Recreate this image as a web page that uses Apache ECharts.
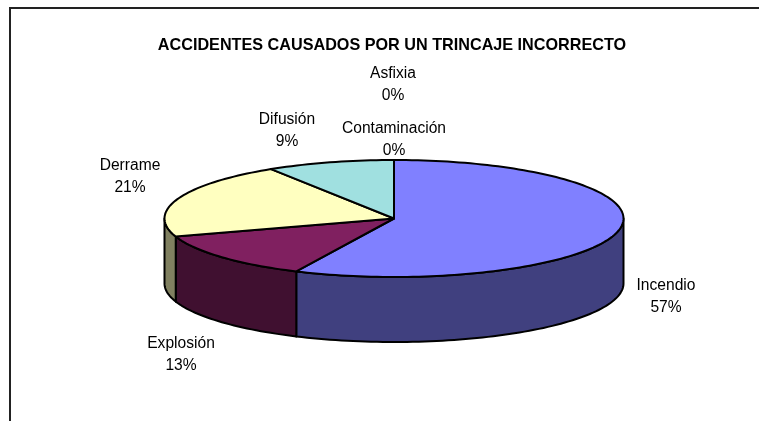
<!DOCTYPE html>
<html>
<head>
<meta charset="utf-8">
<style>html,body{margin:0;padding:0;background:#fff}#chart{width:759px;height:421px}</style>
<script src="https://cdn.jsdelivr.net/npm/echarts@6/dist/echarts.min.js"></script>
</head>
<body>
<div id="chart"></div>
<script>
// Causes of accidents, percent of total
const categories = ['Incendio', 'Explosión', 'Derrame', 'Difusión', 'Contaminación', 'Asfixia'];
const percentages = [57, 13, 21, 9, 0, 0];

// Slice styling: top face and wall
const topColors = ['#8080FF', '#802060', '#FFFFC0', '#A0E0E0', '#FFFFFF', '#FFFFFF'];
const wallColors = ['#40407F', '#401030', '#808060', '#507070', '#808080', '#808080'];

// Centre of each two-line label
const labelCentres = [[666, 297], [181, 355], [130, 177], [287, 131], [394, 140], [393, 85]];

// Pie projection: flattened disc with a vertical wall
const cx = 394, cy = 218.5, rx = 229.5, ry = 58.5, depth = 65;
const total = percentages.reduce((a, b) => a + b, 0);
const cumulative = percentages.map((_, i) => percentages.slice(0, i).reduce((a, b) => a + b, 0));

// Degrees clockwise from twelve o'clock to a point on the rim
function rim(deg, drop) {
  const t = deg * Math.PI / 180;
  return [cx + rx * Math.sin(t), cy - ry * Math.cos(t) + drop];
}
function arc(from, to, drop) {
  const n = Math.max(2, Math.ceil(Math.abs(to - from) / 1.5));
  const pts = [];
  for (let i = 0; i <= n; i++) pts.push(rim(from + (to - from) * i / n, drop));
  return pts;
}
const edge = { stroke: '#000', lineWidth: 2, lineJoin: 'round' };

function renderSlice(params, api) {
  const i = params.dataIndex;
  const start = api.value(1) / total * 360;
  const end = start + api.value(0) / total * 360;
  const children = [];
  // Wall only shows on the near half of the disc
  const wFrom = Math.max(start, 90), wTo = Math.min(end, 270);
  if (wTo > wFrom) {
    children.push({
      type: 'polygon',
      shape: { points: arc(wFrom, wTo, 0).concat(arc(wTo, wFrom, depth)) },
      style: Object.assign({ fill: wallColors[i] }, edge)
    });
  }
  if (end > start) {
    children.push({
      type: 'polygon',
      shape: { points: [[cx, cy]].concat(arc(start, end, 0)) },
      style: Object.assign({ fill: topColors[i] }, edge)
    });
  }
  children.push({
    type: 'text',
    x: labelCentres[i][0],
    y: labelCentres[i][1],
    style: {
      text: categories[i] + '\n' + Math.round(api.value(0) / total * 100) + '%',
      fill: '#000',
      font: '15.6px "Liberation Sans", Arial, sans-serif',
      lineHeight: 22,
      align: 'center',
      verticalAlign: 'middle'
    }
  });
  return { type: 'group', children };
}

const chart = echarts.init(document.getElementById('chart'), null, { renderer: 'canvas' });
chart.setOption({
  animation: false,
  backgroundColor: '#fff',
  title: {
    text: 'ACCIDENTES CAUSADOS POR UN TRINCAJE INCORRECTO',
    left: 387,
    top: 33,
    textAlign: 'center',
    textStyle: { fontFamily: '"Liberation Sans", Arial, sans-serif', fontSize: 16.2, fontWeight: 'bold', color: '#000' }
  },
  graphic: [
    { type: 'polyline', shape: { points: [[10, 421], [10, 8], [759, 8]] }, style: { fill: null, stroke: '#222', lineWidth: 2 } }
  ],
  series: [{
    type: 'custom',
    coordinateSystem: 'none',
    renderItem: renderSlice,
    data: percentages.map((v, i) => [v, cumulative[i]])
  }]
});
</script>
</body>
</html>
